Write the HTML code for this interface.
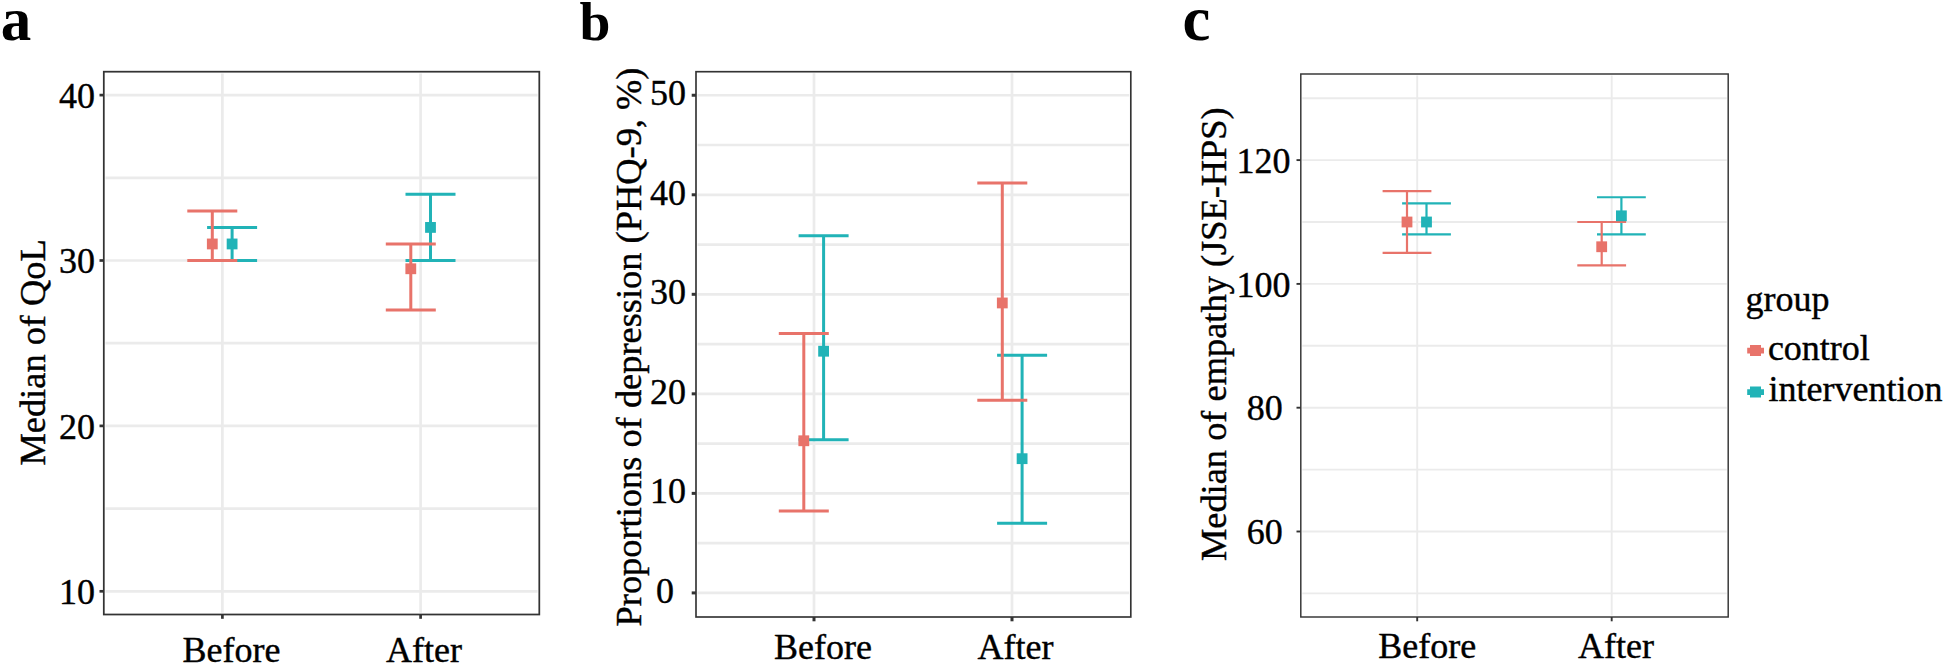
<!DOCTYPE html>
<html lang="en"><head><meta charset="utf-8"><title>Figure</title>
<style>html,body{margin:0;padding:0;background:#fff;}svg{display:block;}text{font-family:"Liberation Serif","Times New Roman",serif;font-size:36px;fill:#000;stroke:#000;stroke-width:0.4px;}.pl{font-weight:bold;font-size:56px;stroke:none;}</style></head><body>
<svg width="1946" height="665" viewBox="0 0 1946 665">
<rect width="1946" height="665" fill="#fff"/>
<text class="pl" style="font-size:61px" x="0.8" y="39.6">a</text>
<text class="pl" style="font-size:55.6px" x="579.6" y="40.4">b</text>
<text class="pl" style="font-size:62.7px" x="1182.4" y="40.4">c</text>
<g>
<line x1="105.5" x2="537.6" y1="508.60" y2="508.60" stroke="#ebebeb" stroke-width="2.7"/>
<line x1="105.5" x2="537.6" y1="343.20" y2="343.20" stroke="#ebebeb" stroke-width="2.7"/>
<line x1="105.5" x2="537.6" y1="177.80" y2="177.80" stroke="#ebebeb" stroke-width="2.7"/>
<line x1="105.5" x2="537.6" y1="591.30" y2="591.30" stroke="#ebebeb" stroke-width="2.7"/>
<line x1="105.5" x2="537.6" y1="425.90" y2="425.90" stroke="#ebebeb" stroke-width="2.7"/>
<line x1="105.5" x2="537.6" y1="260.50" y2="260.50" stroke="#ebebeb" stroke-width="2.7"/>
<line x1="105.5" x2="537.6" y1="95.10" y2="95.10" stroke="#ebebeb" stroke-width="2.7"/>
<line x1="222.4" x2="222.4" y1="73.4" y2="612.8" stroke="#ebebeb" stroke-width="2.7"/>
<line x1="420.6" x2="420.6" y1="73.4" y2="612.8" stroke="#ebebeb" stroke-width="2.7"/>
<path d="M207.1 227.42H257.1M232.1 227.42V260.50M236.5 260.50H257.1" stroke="#21B3B7" stroke-width="3.0" fill="none"/>
<path d="M405.5 194.34H455.5M430.5 194.34V260.50M405.5 260.50H455.5" stroke="#21B3B7" stroke-width="3.0" fill="none"/>
<path d="M187.3 210.88H237.3M212.3 210.88V260.50M187.3 260.50H237.3" stroke="#E8736A" stroke-width="3.0" fill="none"/>
<path d="M385.8 243.96H435.8M410.8 243.96V310.12M385.8 310.12H435.8" stroke="#E8736A" stroke-width="3.0" fill="none"/>
<rect x="226.7" y="238.56" width="10.8" height="10.8" fill="#21B3B7"/>
<rect x="425.1" y="222.02" width="10.8" height="10.8" fill="#21B3B7"/>
<rect x="206.9" y="238.56" width="10.8" height="10.8" fill="#E8736A"/>
<rect x="405.4" y="263.37" width="10.8" height="10.8" fill="#E8736A"/>
<rect x="103.8" y="71.7" width="435.5" height="542.8" fill="none" stroke="#333333" stroke-width="1.75"/>
<line x1="99.5" x2="103.8" y1="591.30" y2="591.30" stroke="#333333" stroke-width="2.7"/>
<line x1="99.5" x2="103.8" y1="425.90" y2="425.90" stroke="#333333" stroke-width="2.7"/>
<line x1="99.5" x2="103.8" y1="260.50" y2="260.50" stroke="#333333" stroke-width="2.7"/>
<line x1="99.5" x2="103.8" y1="95.10" y2="95.10" stroke="#333333" stroke-width="2.7"/>
<line x1="222.4" x2="222.4" y1="614.5" y2="618.8" stroke="#333333" stroke-width="2.7"/>
<line x1="420.6" x2="420.6" y1="614.5" y2="618.8" stroke="#333333" stroke-width="2.7"/>
<text x="95" y="604.0" text-anchor="end">10</text>
<text x="95" y="438.6" text-anchor="end">20</text>
<text x="95" y="273.2" text-anchor="end">30</text>
<text x="95" y="107.8" text-anchor="end">40</text>
<text x="231.6" y="662" text-anchor="middle">Before</text>
<text x="424" y="662" text-anchor="middle">After</text>
<text transform="translate(45.3 352.4) rotate(-90)" text-anchor="middle" style="font-size:36.4px">Median of QoL</text>
</g>
<g>
<line x1="697.6" x2="1129.2" y1="543.13" y2="543.13" stroke="#ebebeb" stroke-width="2.7"/>
<line x1="697.6" x2="1129.2" y1="443.61" y2="443.61" stroke="#ebebeb" stroke-width="2.7"/>
<line x1="697.6" x2="1129.2" y1="344.07" y2="344.07" stroke="#ebebeb" stroke-width="2.7"/>
<line x1="697.6" x2="1129.2" y1="244.55" y2="244.55" stroke="#ebebeb" stroke-width="2.7"/>
<line x1="697.6" x2="1129.2" y1="145.01" y2="145.01" stroke="#ebebeb" stroke-width="2.7"/>
<line x1="697.6" x2="1129.2" y1="592.90" y2="592.90" stroke="#ebebeb" stroke-width="2.7"/>
<line x1="697.6" x2="1129.2" y1="493.37" y2="493.37" stroke="#ebebeb" stroke-width="2.7"/>
<line x1="697.6" x2="1129.2" y1="393.84" y2="393.84" stroke="#ebebeb" stroke-width="2.7"/>
<line x1="697.6" x2="1129.2" y1="294.31" y2="294.31" stroke="#ebebeb" stroke-width="2.7"/>
<line x1="697.6" x2="1129.2" y1="194.78" y2="194.78" stroke="#ebebeb" stroke-width="2.7"/>
<line x1="697.6" x2="1129.2" y1="95.25" y2="95.25" stroke="#ebebeb" stroke-width="2.7"/>
<line x1="814.0" x2="814.0" y1="73.3" y2="615.4" stroke="#ebebeb" stroke-width="2.7"/>
<line x1="1012.0" x2="1012.0" y1="73.3" y2="615.4" stroke="#ebebeb" stroke-width="2.7"/>
<path d="M798.6 235.80H848.6M823.6 235.80V439.77M798.6 439.77H848.6" stroke="#21B3B7" stroke-width="3.0" fill="none"/>
<path d="M997.1 355.20H1047.1M1022.1 355.20V523.35M997.1 523.35H1047.1" stroke="#21B3B7" stroke-width="3.0" fill="none"/>
<path d="M778.8 333.60H828.8M803.8 333.60V511.11M778.8 511.11H828.8" stroke="#E8736A" stroke-width="3.0" fill="none"/>
<path d="M977.3 183.06H1027.3M1002.3 183.06V400.37M977.3 400.37H1027.3" stroke="#E8736A" stroke-width="3.0" fill="none"/>
<rect x="818.2" y="345.82" width="10.8" height="10.8" fill="#21B3B7"/>
<rect x="1016.7" y="453.28" width="10.8" height="10.8" fill="#21B3B7"/>
<rect x="798.4" y="435.37" width="10.8" height="10.8" fill="#E8736A"/>
<rect x="996.9" y="297.56" width="10.8" height="10.8" fill="#E8736A"/>
<rect x="696" y="71.7" width="434.8" height="545.3" fill="none" stroke="#333333" stroke-width="1.65"/>
<line x1="691.7" x2="696.0" y1="592.90" y2="592.90" stroke="#333333" stroke-width="3.0"/>
<line x1="691.7" x2="696.0" y1="493.37" y2="493.37" stroke="#333333" stroke-width="3.0"/>
<line x1="691.7" x2="696.0" y1="393.84" y2="393.84" stroke="#333333" stroke-width="3.0"/>
<line x1="691.7" x2="696.0" y1="294.31" y2="294.31" stroke="#333333" stroke-width="3.0"/>
<line x1="691.7" x2="696.0" y1="194.78" y2="194.78" stroke="#333333" stroke-width="3.0"/>
<line x1="691.7" x2="696.0" y1="95.25" y2="95.25" stroke="#333333" stroke-width="3.0"/>
<line x1="814.0" x2="814.0" y1="617.0" y2="621.3" stroke="#333333" stroke-width="3.0"/>
<line x1="1012.0" x2="1012.0" y1="617.0" y2="621.3" stroke="#333333" stroke-width="3.0"/>
<text x="665.1" y="602.9" text-anchor="middle">0</text>
<text x="686" y="503.4" text-anchor="end">10</text>
<text x="686" y="403.8" text-anchor="end">20</text>
<text x="686" y="304.3" text-anchor="end">30</text>
<text x="686" y="204.8" text-anchor="end">40</text>
<text x="686" y="105.2" text-anchor="end">50</text>
<text x="823" y="658.8" text-anchor="middle">Before</text>
<text x="1015.6" y="658.8" text-anchor="middle">After</text>
<text transform="translate(640.8 347.0) rotate(-90)" text-anchor="middle" style="font-size:36.4px">Proportions of depression (PHQ-9, %)</text>
</g>
<g>
<line x1="1302.3" x2="1726.7" y1="593.40" y2="593.40" stroke="#ebebeb" stroke-width="1.9"/>
<line x1="1302.3" x2="1726.7" y1="469.60" y2="469.60" stroke="#ebebeb" stroke-width="1.9"/>
<line x1="1302.3" x2="1726.7" y1="345.80" y2="345.80" stroke="#ebebeb" stroke-width="1.9"/>
<line x1="1302.3" x2="1726.7" y1="222.00" y2="222.00" stroke="#ebebeb" stroke-width="1.9"/>
<line x1="1302.3" x2="1726.7" y1="98.20" y2="98.20" stroke="#ebebeb" stroke-width="1.9"/>
<line x1="1302.3" x2="1726.7" y1="531.50" y2="531.50" stroke="#ebebeb" stroke-width="1.9"/>
<line x1="1302.3" x2="1726.7" y1="407.70" y2="407.70" stroke="#ebebeb" stroke-width="1.9"/>
<line x1="1302.3" x2="1726.7" y1="283.90" y2="283.90" stroke="#ebebeb" stroke-width="1.9"/>
<line x1="1302.3" x2="1726.7" y1="160.10" y2="160.10" stroke="#ebebeb" stroke-width="1.9"/>
<line x1="1417.2" x2="1417.2" y1="75.5" y2="615.5" stroke="#ebebeb" stroke-width="1.9"/>
<line x1="1611.7" x2="1611.7" y1="75.5" y2="615.5" stroke="#ebebeb" stroke-width="1.9"/>
<path d="M1402.1 203.43H1450.9M1426.5 203.43V234.38M1402.1 234.38H1450.9" stroke="#21B3B7" stroke-width="2.2" fill="none"/>
<path d="M1597.0 197.24H1645.8M1621.4 197.24V234.38M1597.0 234.38H1645.8" stroke="#21B3B7" stroke-width="2.2" fill="none"/>
<path d="M1382.6 191.05H1431.4M1407.0 191.05V252.95M1382.6 252.95H1431.4" stroke="#E8736A" stroke-width="2.2" fill="none"/>
<path d="M1577.3 222.00H1626.1M1601.7 222.00V265.33M1577.3 265.33H1626.1" stroke="#E8736A" stroke-width="2.2" fill="none"/>
<rect x="1421.1" y="216.60" width="10.8" height="10.8" fill="#21B3B7"/>
<rect x="1616.0" y="210.41" width="10.8" height="10.8" fill="#21B3B7"/>
<rect x="1401.6" y="216.60" width="10.8" height="10.8" fill="#E8736A"/>
<rect x="1596.3" y="241.36" width="10.8" height="10.8" fill="#E8736A"/>
<rect x="1300.8" y="74" width="427.4" height="543.0" fill="none" stroke="#333333" stroke-width="1.45"/>
<line x1="1296.5" x2="1300.8" y1="531.50" y2="531.50" stroke="#333333" stroke-width="1.9"/>
<line x1="1296.5" x2="1300.8" y1="407.70" y2="407.70" stroke="#333333" stroke-width="1.9"/>
<line x1="1296.5" x2="1300.8" y1="283.90" y2="283.90" stroke="#333333" stroke-width="1.9"/>
<line x1="1296.5" x2="1300.8" y1="160.10" y2="160.10" stroke="#333333" stroke-width="1.9"/>
<line x1="1417.2" x2="1417.2" y1="617.0" y2="621.3" stroke="#333333" stroke-width="1.9"/>
<line x1="1611.7" x2="1611.7" y1="617.0" y2="621.3" stroke="#333333" stroke-width="1.9"/>
<text x="1264.8" y="544.1" text-anchor="middle">60</text>
<text x="1264.8" y="420.3" text-anchor="middle">80</text>
<text x="1290.5" y="296.5" text-anchor="end">100</text>
<text x="1290.5" y="172.7" text-anchor="end">120</text>
<text x="1427.2" y="658.2" text-anchor="middle">Before</text>
<text x="1616" y="658.2" text-anchor="middle">After</text>
<text transform="translate(1226 334.2) rotate(-90)" text-anchor="middle" style="font-size:36.4px">Median of empathy (JSE-HPS)</text>
</g>
<g>
<text x="1745.5" y="310.6">group</text>
<path d="M1750 345.1h11v2.6h3v5.7h-3v2.6h-11v-2.6h-2.8v-5.7h2.8z" fill="#E8736A"/>
<text x="1767.9" y="359.8">control</text>
<path d="M1750 386.6h11v2.6h3v5.7h-3v2.6h-11v-2.6h-2.8v-5.7h2.8z" fill="#21B3B7"/>
<text x="1768.5" y="400.8">intervention</text>
</g>
</svg></body></html>
